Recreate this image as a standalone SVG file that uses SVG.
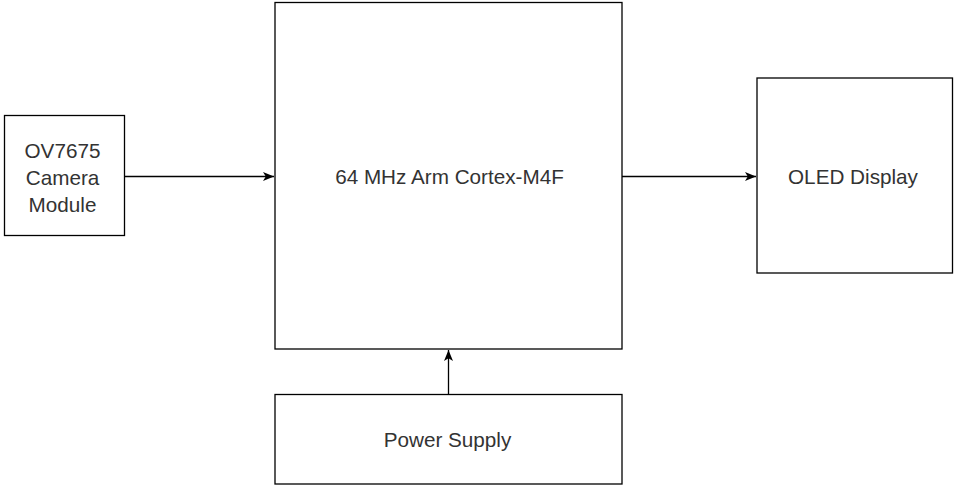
<svg xmlns="http://www.w3.org/2000/svg" width="955" height="487" viewBox="0 0 955 487">
<style>
.box{fill:#fff;stroke:#000;stroke-width:1.3}
.lbl{font-family:"Liberation Sans",Arial,sans-serif;font-size:20.7px;fill:#333;text-anchor:middle}
.edge{stroke:#000;stroke-width:1.3;fill:none}
</style>
<defs>
<marker id="arr" markerWidth="13" markerHeight="11" refX="11" refY="5" orient="auto" markerUnits="userSpaceOnUse">
<path d="M0,0.5 L11,5 L0,9.5 L2.8,5 Z" fill="#000"/>
</marker>
</defs>
<rect width="955" height="487" fill="#fff"/>
<g id="camera">
<rect class="box" x="4.5" y="115.5" width="120" height="120"/>
<text class="lbl" x="62.5" y="158.3">OV7675</text>
<text class="lbl" x="62.5" y="184.8">Camera</text>
<text class="lbl" x="62.5" y="211.8">Module</text>
</g>
<g id="mcu">
<rect class="box" x="275" y="2.5" width="347" height="346.5"/>
<text class="lbl" x="449.5" y="184">64 MHz Arm Cortex-M4F</text>
</g>
<g id="oled">
<rect class="box" x="757" y="78" width="195.5" height="195"/>
<text class="lbl" x="853" y="183.5">OLED Display</text>
</g>
<g id="power">
<rect class="box" x="275" y="394.5" width="347" height="89.5"/>
<text class="lbl" x="447.5" y="446.7">Power Supply</text>
</g>
<g id="connectors">
<line class="edge" x1="124.5" y1="176.5" x2="274" y2="176.5" marker-end="url(#arr)"/>
<line class="edge" x1="622" y1="176.5" x2="756" y2="176.5" marker-end="url(#arr)"/>
<line class="edge" x1="448.5" y1="394.5" x2="448.5" y2="350" marker-end="url(#arr)"/>
</g>
</svg>
